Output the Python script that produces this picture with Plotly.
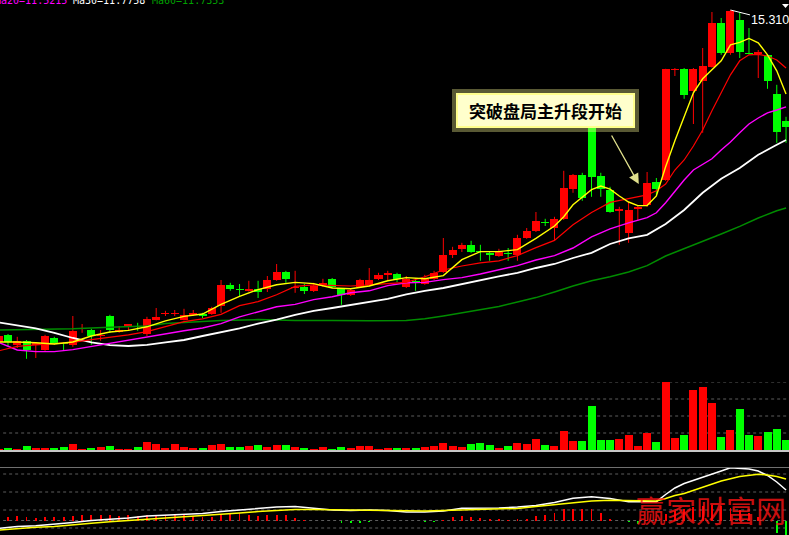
import plotly.graph_objects as go

W, H = 789, 535

# ---------------- data ----------------
opens = [7.01, 7.19, 6.94, 7.04, 6.95, 6.81, 7.11, 6.99, 6.94, 7.34,
         7.31, 7.16, 7.66, 7.26, 7.42, 7.41, 7.21, 7.56, 7.72, 7.72,
         7.56, 7.69, 7.71, 7.71, 7.91, 8.44, 8.34, 8.29, 8.34, 8.34,
         8.56, 8.76, 8.36, 8.39, 8.29, 8.44, 8.59, 8.34, 8.19, 8.39,
         8.44, 8.59, 8.69, 8.71, 8.39, 8.54, 8.46, 8.59, 8.76, 9.19,
         9.34, 9.44, 9.29, 9.24, 9.16, 9.24, 9.19, 9.61, 9.79, 10.01,
         9.86, 10.09, 10.84, 11.19, 12.36, 11.16, 10.81, 10.29, 9.74, 10.34,
         10.44, 11.01, 11.06, 13.81, 13.84, 13.29, 13.54, 13.89, 14.99, 14.24,
         15.06, 14.24, 14.21, 14.19, 13.21, 12.54]
highs = [7.19, 7.21, 7.14, 7.06, 6.99, 7.19, 7.14, 7.01, 7.66, 7.46,
         7.34, 7.31, 7.69, 7.41, 7.46, 7.49, 7.64, 7.86, 7.79, 7.81,
         7.84, 7.81, 7.74, 7.89, 8.56, 8.49, 8.46, 8.54, 8.54, 8.66,
         8.96, 8.79, 8.79, 8.46, 8.49, 8.59, 8.61, 8.36, 8.36, 8.59,
         8.86, 8.74, 8.79, 8.74, 8.66, 8.61, 8.69, 8.79, 9.61, 9.39,
         9.49, 9.54, 9.44, 9.26, 9.34, 9.36, 9.69, 9.86, 10.26, 10.09,
         10.14, 11.29, 11.21, 11.24, 12.39, 11.24, 10.89, 10.39, 10.51, 10.41,
         11.26, 11.11, 13.84, 13.86, 13.86, 13.86, 14.36, 15.26, 15.11, 15.31,
         15.24, 14.86, 14.31, 14.21, 13.44, 12.64]
lows = [6.99, 6.89, 6.86, 6.59, 6.61, 6.79, 6.94, 6.79, 6.89, 7.24,
        6.94, 7.04, 7.24, 7.24, 7.29, 7.29, 7.16, 7.55, 7.66, 7.66,
        7.55, 7.66, 7.61, 7.69, 7.74, 8.29, 8.16, 8.27, 8.11, 8.26,
        8.54, 8.49, 8.24, 8.21, 8.26, 8.39, 8.36, 7.94, 8.16, 8.36,
        8.39, 8.56, 8.56, 8.51, 8.36, 8.29, 8.44, 8.56, 8.74, 9.11,
        9.26, 9.24, 9.04, 9.04, 9.14, 9.04, 9.04, 9.59, 9.76, 9.91,
        9.56, 10.06, 10.74, 10.54, 10.64, 10.64, 10.24, 9.44, 9.49, 10.04,
        10.39, 10.69, 11.04, 13.66, 13.09, 12.46, 12.24, 13.87, 14.19, 14.19,
        14.11, 14.20, 13.61, 13.34, 11.99, 11.99]
closes = [7.16, 7.01, 7.04, 6.81, 6.97, 7.16, 6.99, 6.96, 7.29, 7.36,
          7.16, 7.19, 7.31, 7.31, 7.45, 7.39, 7.59, 7.64, 7.74, 7.74,
          7.69, 7.74, 7.67, 7.86, 8.44, 8.34, 8.31, 8.34, 8.26, 8.56,
          8.76, 8.59, 8.39, 8.29, 8.41, 8.49, 8.39, 8.19, 8.31, 8.56,
          8.56, 8.69, 8.74, 8.59, 8.59, 8.49, 8.59, 8.74, 9.19, 9.31,
          9.44, 9.26, 9.25, 9.19, 9.26, 9.20, 9.61, 9.79, 10.04, 9.99,
          10.09, 10.86, 11.19, 10.61, 11.14, 10.84, 10.26, 10.34, 10.31, 10.39,
          10.99, 10.84, 13.84, 13.84, 13.19, 13.84, 13.91, 14.99, 14.24, 15.29,
          14.26, 14.21, 14.26, 13.54, 12.26, 12.39]
volumes = [1, 2, 1, 4, 2, 2, 2, 3, 6, 1,
           2, 3, 4, 1, 1, 3, 8, 6, 2, 6,
           3, 2, 2, 5, 6, 3, 3, 4, 5, 3,
           5, 5, 3, 2, 1, 3, 1, 3, 2, 4,
           4, 1, 2, 2, 2, 2, 3, 4, 7, 4,
           3, 6, 7, 5, 2, 4, 7, 6, 11, 5,
           4, 19, 9, 9, 44, 10, 10, 11, 15, 4,
           17, 8, 68, 12, 15, 60, 63, 47, 13, 20,
           41, 15, 14, 18, 21, 10]

ma5_k = list(range(0, 60, 2)) + list(range(60, 86))
ma5 = [7.01, 7.01, 6.99, 6.96, 7.01, 7.16, 7.26, 7.30, 7.39, 7.54,
       7.65, 7.71, 7.95, 8.15, 8.32, 8.44, 8.50, 8.47, 8.36, 8.34,
       8.41, 8.54, 8.62, 8.59, 8.67, 9.07, 9.27, 9.27, 9.32, 9.60,
       9.91, 10.14, 10.44, 10.64, 10.82, 10.91, 10.83, 10.66, 10.51, 10.42,
       10.42, 10.66, 11.39, 12.04, 12.64, 13.24, 13.59, 13.81, 14.04, 14.44,
       14.50, 14.60, 14.49, 14.19, 13.79, 13.21]
ma10_k = list(range(0, 72, 2)) + list(range(71, 86))
ma10 = [6.79, 6.90, 6.94, 6.97, 7.00, 7.07, 7.13, 7.19, 7.27, 7.39,
        7.52, 7.59, 7.70, 7.92, 8.02, 8.19, 8.40, 8.44, 8.42, 8.41,
        8.44, 8.47, 8.50, 8.64, 8.81, 8.91, 8.99, 9.04, 9.17, 9.37,
        9.55, 9.94, 10.25, 10.50, 10.59, 10.69,
        10.79, 10.96, 11.31, 11.56, 11.91, 12.31, 12.79, 13.26, 13.69, 14.04,
        14.19, 14.20, 14.16, 14.06, 13.86]
ma20_k = list(range(0, 72, 2)) + list(range(71, 86))
ma20 = [7.00, 6.81, 6.77, 6.77, 6.82, 6.90, 6.97, 7.06, 7.14, 7.21,
        7.29, 7.36, 7.47, 7.64, 7.77, 7.89, 7.95, 8.07, 8.14, 8.24,
        8.29, 8.42, 8.49, 8.50, 8.57, 8.62, 8.71, 8.81, 8.92, 9.06,
        9.17, 9.36, 9.64, 9.84, 9.99, 10.12,
        10.24, 10.49, 10.79, 11.06, 11.31, 11.46, 11.59, 11.81, 12.01, 12.24,
        12.46, 12.61, 12.74, 12.81, 12.89]
ma30_k = list(range(0, 86, 2)) + [85]
ma30 = [7.50, 7.42, 7.35, 7.24, 7.11, 7.00, 6.93, 6.91, 6.94, 7.00,
        7.06, 7.16, 7.25, 7.35, 7.47, 7.57, 7.69, 7.79, 7.86, 7.94,
        8.01, 8.09, 8.20, 8.29, 8.36, 8.46, 8.56, 8.65, 8.74, 8.86,
        8.96, 9.11, 9.24, 9.46, 9.60, 9.69, 9.96, 10.31, 10.74, 11.09,
        11.36, 11.69, 11.94, 12.06]
ma60_k = [0, 4, 8, 12, 16, 18, 20, 22, 24, 28, 32, 36, 40, 44, 46, 48, 50, 52,
          54, 56, 58, 60, 62, 64, 66, 68, 70, 72, 74, 76, 78, 80, 82, 84, 85]
ma60 = [7.31, 7.33, 7.34, 7.38, 7.41, 7.47, 7.50, 7.52, 7.55, 7.57, 7.55, 7.55,
        7.54, 7.55, 7.59, 7.66, 7.74, 7.81, 7.90, 8.01, 8.12, 8.26, 8.41, 8.54,
        8.64, 8.76, 8.92, 9.16, 9.34, 9.51, 9.71, 9.90, 10.11, 10.29, 10.36]

dif_k = list(range(0, 72, 2)) + [71, 72, 73, 74, 76, 78, 79, 80, 81, 82, 83, 84, 85]
dif = [-0.078, -0.06, -0.053, -0.04, -0.02, 0.0, 0.012, 0.025, 0.045, 0.055,
       0.065, 0.07, 0.09, 0.105, 0.115, 0.135, 0.14, 0.12, 0.105, 0.10,
       0.105, 0.10, 0.085, 0.085, 0.095, 0.122, 0.122, 0.125, 0.135, 0.15,
       0.18, 0.222, 0.238, 0.22, 0.188, 0.188,
       0.188, 0.26, 0.325, 0.37, 0.43, 0.495, 0.528, 0.523, 0.515, 0.495,
       0.45, 0.385, 0.305]
dea_k = list(range(0, 72, 2)) + [71, 72, 73, 74, 76, 78, 80, 82, 83, 84, 85]
dea = [-0.095, -0.08, -0.068, -0.06, -0.041, -0.028, -0.013, -0.001, 0.008, 0.025,
       0.039, 0.05, 0.06, 0.075, 0.089, 0.103, 0.11, 0.11, 0.107, 0.105,
       0.10, 0.095, 0.093, 0.095, 0.099, 0.104, 0.109, 0.115, 0.121, 0.14,
       0.16, 0.18, 0.195, 0.203, 0.20, 0.197,
       0.195, 0.22, 0.25, 0.27, 0.33, 0.395, 0.44, 0.463, 0.455, 0.44, 0.415]
macd_hist = [0.04, 0.04, 0.05, 0.04, 0.027, 0.04, 0.04, 0.037, 0.05, 0.06,
             0.06, 0.06, 0.06, 0.05, 0.06, 0.05, 0.06, 0.06, 0.06, 0.06,
             0.06, 0.05, 0.04, 0.04, 0.067, 0.067, 0.073, 0.06, 0.05, 0.06,
             0.06, 0.06, 0.027, 0.004, 0.0, 0.0, -0.006, -0.023, -0.023, -0.023,
             -0.013, -0.006, 0.0, -0.006, -0.006, 0.0, -0.013, -0.013, 0.01, 0.04,
             0.05, 0.04, 0.03, 0.02, 0.02, 0.01, 0.02, 0.02, 0.05, 0.06,
             0.08, 0.12, 0.12, 0.12, 0.12, 0.08, 0.02, 0.0, -0.013, -0.037,
             0.01, 0.02, 0.07, 0.10, 0.12, 0.14, 0.15, 0.16, 0.15, 0.13,
             0.11, 0.08, 0.04, 0.0, -0.12, -0.14]

vol_grid = [17, 34, 51, 68]
macd_grid = [0.465, 0.285, 0.105, 0.0, -0.075]
ma_labels = [("Ma20=11.5215", "#ff00ff"), ("Ma30=11.7758", "#ffffff"), ("Ma60=11.7353", "#00a000")]
note_text = "突破盘局主升段开始"
watermark = "赢家财富网"

# ---------------- figure ----------------
UP, DOWN = "#ff0000", "#00ff00"
idx = list(range(len(opens)))
is_up = [c >= o for o, c in zip(opens, closes)]
colors = [UP if u else DOWN for u in is_up]

fig = go.Figure()

for flag, col in ((True, UP), (False, DOWN)):
    xs, ys = [], []
    for i in idx:
        if is_up[i] == flag:
            xs += [i, i, None]
            ys += [lows[i], highs[i], None]
    fig.add_trace(go.Scatter(x=xs, y=ys, mode="lines", line=dict(color=col, width=1),
                             hoverinfo="skip"))

MINB = 0.03
body_h = [max(abs(c - o), MINB) for o, c in zip(opens, closes)]
body_b = [min(o, c) - (MINB - abs(c - o)) / 2 if abs(c - o) < MINB else min(o, c)
          for o, c in zip(opens, closes)]
fig.add_trace(go.Bar(x=idx, y=body_h, base=body_b, width=0.864,
                     marker=dict(color=colors, line=dict(width=0)), hoverinfo="skip"))

for kk, vv, col, wd in ((ma60_k, ma60, "#008c00", 1.5), (ma30_k, ma30, "#ffffff", 1.8),
                        (ma20_k, ma20, "#ff00ff", 1.4), (ma10_k, ma10, "#ff0000", 1.2),
                        (ma5_k, ma5, "#ffff00", 1.4)):
    fig.add_trace(go.Scatter(x=kk, y=vv, mode="lines", line=dict(color=col, width=wd),
                             hoverinfo="skip"))

fig.add_trace(go.Bar(x=idx, y=volumes, width=0.864, yaxis="y2",
                     marker=dict(color=colors, line=dict(width=0)), hoverinfo="skip"))

fig.add_trace(go.Bar(x=idx, y=macd_hist, width=0.2, yaxis="y3",
                     marker=dict(color=[UP if v >= 0 else DOWN for v in macd_hist],
                                 line=dict(width=0)), hoverinfo="skip"))
fig.add_trace(go.Scatter(x=dif_k, y=dif, yaxis="y3", mode="lines",
                         line=dict(color="#ffffff", width=1.5), hoverinfo="skip"))
fig.add_trace(go.Scatter(x=dea_k, y=dea, yaxis="y3", mode="lines",
                         line=dict(color="#ffff00", width=1.5), hoverinfo="skip"))

shapes = []
for g in vol_grid:
    shapes.append(dict(type="line", xref="paper", yref="y2", x0=0.004, x1=1, y0=g, y1=g,
                       line=dict(color="#5c5c5c", width=1, dash="3px,3px"), layer="below"))
for g in macd_grid:
    shapes.append(dict(type="line", xref="paper", yref="y3", x0=0.004, x1=1, y0=g, y1=g,
                       line=dict(color="#5c5c5c", width=1, dash="3px,3px"), layer="below"))
shapes.append(dict(type="rect", xref="paper", yref="paper", x0=0, x1=1,
                   y0=1 - 452 / H, y1=1 - 450 / H, fillcolor="#c8c8c8", line=dict(width=0)))
shapes.append(dict(type="line", xref="paper", yref="paper", x0=0, x1=1,
                   y0=1 - 467.5 / H, y1=1 - 467.5 / H, line=dict(color="#707070", width=1)))
# glow behind the note box
shapes.append(dict(type="rect", xref="paper", yref="paper", x0=452 / W, x1=639 / W,
                   y0=1 - 132 / H, y1=1 - 89 / H, fillcolor="rgba(255,255,150,0.35)",
                   line=dict(width=0)))
# small marker at top right
shapes.append(dict(type="path", xref="paper", yref="paper",
                   path="M %f,%f L %f,%f L %f,%f Z" % (782 / W, 1 - 4 / H, 789 / W, 1 - 4 / H,
                                                        785.5 / W, 1 - 8 / H),
                   fillcolor="#ffffff", line=dict(width=0)))

annotations = []
label_x = [-7, 70.7, 150]
for (txt, col), lx in zip(ma_labels, label_x):
    annotations.append(dict(xref="paper", yref="paper", x=lx / W, y=1, xanchor="left",
                            yanchor="bottom", yshift=-8, text=txt, showarrow=False,
                            font=dict(family="DejaVu Sans Mono", size=10, color=col)))

hi_i = max(idx, key=lambda i: highs[i])
annotations.append(dict(x=hi_i, y=highs[hi_i], xref="x", yref="y", text="%.3f" % highs[hi_i],
                        showarrow=True, arrowhead=0, arrowwidth=1, arrowcolor="#ffffff",
                        ax=40, ay=10, font=dict(family="Liberation Sans", size=12.5, color="#ffffff")))

annotations.append(dict(xref="paper", yref="paper", x=456 / W, y=1 - 93 / H, xanchor="left",
                        yanchor="top", text="<b>%s</b>" % note_text, showarrow=False,
                        font=dict(family="Noto Sans CJK SC", size=17, color="#000000"),
                        bgcolor="#ffffcc", bordercolor="#ffff8c", borderwidth=2, borderpad=2,
                        width=171, height=27))
annotations.append(dict(x=69.1, y=10.96, xref="x", yref="y", text="", showarrow=True,
                        arrowhead=2, arrowsize=1.6, arrowwidth=1.3, arrowcolor="#e0e08c",
                        ax=-28, ay=-50))
annotations.append(dict(xref="paper", yref="paper", x=711 / W, y=1 - 509 / H, xanchor="center",
                        yanchor="middle", text=watermark, showarrow=False,
                        font=dict(family="Noto Sans CJK SC", size=30, color="rgba(255,20,20,0.8)")))

fig.update_layout(
    width=W, height=H, margin=dict(l=0, r=0, t=0, b=0),
    paper_bgcolor="#000000", plot_bgcolor="#000000", showlegend=False,
    barmode="overlay", bargap=0, hovermode=False,
    xaxis=dict(range=[0.136, 85.32], visible=False, fixedrange=True),
    yaxis=dict(domain=[1 - 378 / H, 1], range=[6.11, 15.56], visible=False),
    yaxis2=dict(domain=[1 - 450 / H, 1 - 382 / H], range=[0, 68], visible=False, anchor="x"),
    yaxis3=dict(domain=[0, 1 - 467 / H], range=[-0.145, 0.535], visible=False, anchor="x"),
    shapes=shapes, annotations=annotations,
)

fig.write_html("out.html", config={"displayModeBar": False, "staticPlot": True},
               post_script="document.body.style.margin='0';document.body.style.background='#000';")
